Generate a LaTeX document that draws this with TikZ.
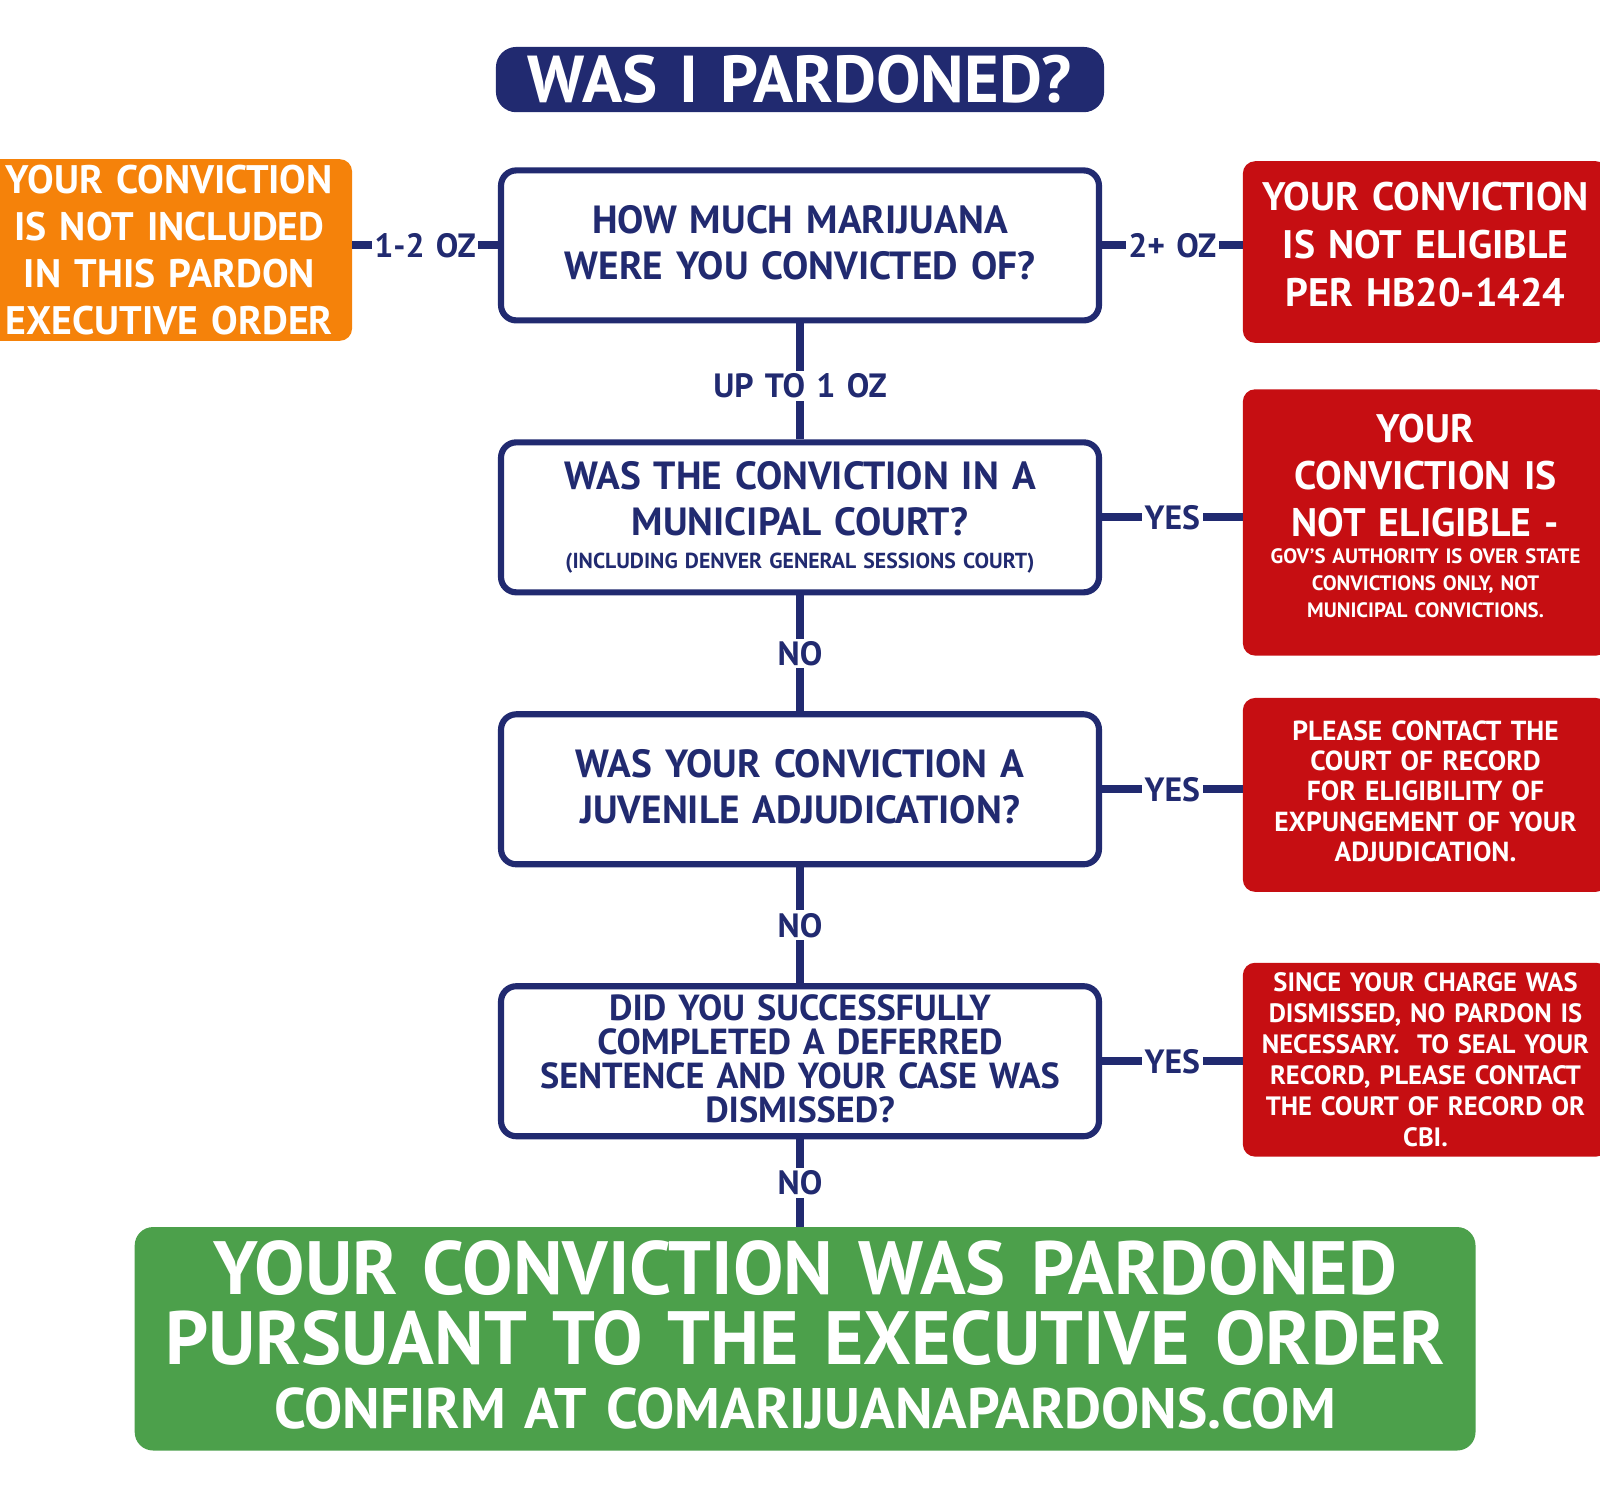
\documentclass[tikz,border=0pt]{standalone}
\usepackage{fontspec}
\setmainfont{PT Sans}
\usepackage{tikz}
\usetikzlibrary{positioning}

\definecolor{navy}{RGB}{33,42,112}
\definecolor{orangebox}{RGB}{245,130,10}
\definecolor{redbox}{RGB}{198,14,18}
\definecolor{greenbox}{RGB}{76,160,75}

\newcommand{\fsz}[2]{\fontsize{#1}{#2}\selectfont\spaceskip=.3333em\xspaceskip=.5em\relax}

\begin{document}
\begin{tikzpicture}
[x=1pt, y=1pt, node distance=266.5pt, on grid,
 banner/.style={fill=navy, rounded corners=20pt, minimum width=596pt, minimum height=64pt,
   inner sep=0pt, text=white, font=\bfseries\fsz{65}{70}},
 question/.style={draw=navy, line width=6pt, rounded corners=15pt, fill=white,
   minimum width=586pt, minimum height=147pt, text width=575pt, align=center,
   inner sep=0pt, text=navy, font=\bfseries\fsz{38.5}{45}},
 outcome/.style={rounded corners=12pt, minimum width=358pt, text width=350pt, align=center,
   inner sep=0pt, text=white, font=\bfseries},
 ineligible/.style={outcome, fill=redbox},
 excluded/.style={outcome, fill=orangebox},
 pardon/.style={fill=greenbox, rounded corners=18pt, minimum width=1314pt, minimum height=219pt,
   text width=1300pt, align=center, inner sep=0pt, text=white, font=\bfseries},
 link/.style={draw=navy, line width=8pt},
 choice/.style={fill=white, inner sep=2.5pt, text=navy, font=\bfseries\fsz{33}{36}}]

\useasboundingbox (0,0) rectangle (1568,-1463);
\clip (0,0) rectangle (1568,-1463);

\node [question] (amount) at (784,-240.5) {HOW MUCH MARIJUANA\\WERE YOU CONVICTED OF?\par\kern5pt};
\node [banner, above=162.5pt of amount] (title) {WAS I PARDONED?};
\node [question, below=of amount] (municipal) {WAS THE CONVICTION IN A\\MUNICIPAL COURT?\par
  {\fsz{21.3}{33}(INCLUDING DENVER GENERAL SESSIONS COURT)\par}};
\node [question, below=of municipal] (juvenile) {WAS YOUR CONVICTION A\\JUVENILE ADJUDICATION?\par\kern5pt};
\node [question, below=of juvenile, font=\bfseries\fsz{35.5}{33.5}] (deferred)
  {DID YOU SUCCESSFULLY\\COMPLETED A DEFERRED\\SENTENCE AND YOUR CASE WAS\\DISMISSED?\par\kern5pt};

\node [excluded, minimum height=178pt, below left=4.5pt and 618pt of amount,
  font=\bfseries\fsz{39}{46.3}] (not_included)
  {YOUR CONVICTION\\IS NOT INCLUDED\\IN THIS PARDON\\EXECUTIVE ORDER};
\node [ineligible, minimum height=178pt, below right=6.5pt and 613pt of amount,
  font=\bfseries\fsz{39}{47}] (not_eligible)
  {YOUR CONVICTION\\IS NOT ELIGIBLE\\PER HB20-1424\par\kern15pt};
\node [ineligible, minimum height=261pt, below right=5pt and 613pt of municipal]
  (state_only) {{\fsz{39}{46}YOUR\\CONVICTION IS\\NOT ELIGIBLE -\par}
  {\fsz{20.4}{26.5}GOV'S AUTHORITY IS OVER STATE\\CONVICTIONS ONLY, NOT\\MUNICIPAL CONVICTIONS.\par}\kern12pt};
\node [ineligible, minimum height=190pt, below right=5.5pt and 613pt of juvenile,
  font=\bfseries\fsz{27}{29.6}] (expunge)
  {PLEASE CONTACT THE\\COURT OF RECORD\\FOR ELIGIBILITY OF\\EXPUNGEMENT OF YOUR\\ADJUDICATION.\par\kern7pt};
\node [ineligible, minimum height=190pt, above right=1.5pt and 613pt of deferred,
  font=\bfseries\fsz{26}{30.4}] (sealed)
  {SINCE YOUR CHARGE WAS\\DISMISSED, NO PARDON IS\\NECESSARY.\ \ TO SEAL YOUR\\RECORD, PLEASE CONTACT\\THE COURT OF RECORD OR\\CBI.};

\node [pardon, below right=272pt and 5pt of deferred] (pardoned)
  {{\fsz{74}{69}YOUR CONVICTION WAS PARDONED\\PURSUANT TO THE EXECUTIVE ORDER\par}
  {\fsz{56}{62}CONFIRM AT COMARIJUANAPARDONS.COM\par}\kern8pt};

\draw [link] (amount.west -| not_included.east) -- node [choice] {1-2 OZ} (amount.west);
\draw [link] (amount.east) -- node [choice] {2+ OZ} (amount.east -| not_eligible.west);
\draw [link] (amount.south) -- node [choice, pos=0.54] {UP TO 1 OZ} (municipal.north);
\draw [link] (municipal.east) -- node [choice] {YES} (municipal.east -| state_only.west);
\draw [link] (municipal.south) -- node [choice] {NO} (juvenile.north);
\draw [link] (juvenile.east) -- node [choice] {YES} (juvenile.east -| expunge.west);
\draw [link] (juvenile.south) -- node [choice] {NO} (deferred.north);
\draw [link] (deferred.east) -- node [choice] {YES} (deferred.east -| sealed.west);
\draw [link] (deferred.south) -- node [choice] {NO} (deferred.south |- pardoned.north);

\end{tikzpicture}
\end{document}
